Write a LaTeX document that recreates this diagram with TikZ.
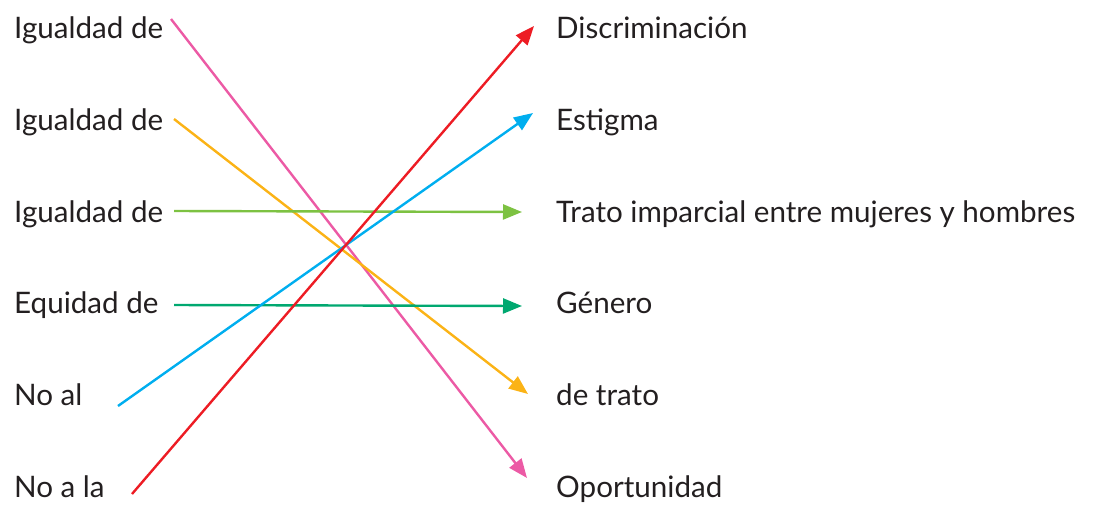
\documentclass[tikz,border=0pt]{standalone}
\usepackage{fontspec}
\setmainfont{Lato}
\usetikzlibrary{arrows.meta}
\definecolor{cpink}{HTML}{EC5AA5}
\definecolor{corange}{HTML}{FBB316}
\definecolor{clgreen}{HTML}{7DC242}
\definecolor{cteal}{HTML}{00A870}
\definecolor{cblue}{HTML}{00AEEF}
\definecolor{cred}{HTML}{ED1C24}
\definecolor{ctext}{HTML}{231F20}
\begin{document}
\begin{tikzpicture}[x=1pt,y=-1pt,
  lbl/.style={anchor=base west,inner sep=0pt,font=\fontsize{29.6}{33}\selectfont,text=ctext},
  conn/.style={line width=2.4pt,-{Triangle[length=19pt,width=15pt]}}]
\useasboundingbox (0,0) rectangle (1100,504);
% left labels
\node[lbl] (l1) at (14,38) {Igualdad de};
\node[lbl] (l2) at (14,130) {Igualdad de};
\node[lbl] (l3) at (14,222) {Igualdad de};
\node[lbl] (l4) at (14,313) {Equidad de};
\node[lbl] (l5) at (14,405) {No al};
\node[lbl] (l6) at (14,497) {No a la};
% right labels
\node[lbl] (r1) at (556,38) {Discriminación};
\node[lbl] (r2) at (556,130) {Estigma};
\node[lbl] (r3) at (556,222) {Trato imparcial entre mujeres y hombres};
\node[lbl] (r4) at (556,313) {Género};
\node[lbl] (r5) at (556,405) {de trato};
\node[lbl] (r6) at (556,497) {Oportunidad};
% endpoints
\coordinate (s1) at (171,19);  \coordinate (e1) at (527,478);
\coordinate (s2) at (174,119); \coordinate (e2) at (528,394);
\coordinate (s3) at (174,211); \coordinate (e3) at (522,212);
\coordinate (s4) at (174,305); \coordinate (e4) at (522,306);
\coordinate (s5) at (118,406); \coordinate (e5) at (533,113);
\coordinate (s6) at (132,494); \coordinate (e6) at (534,26);
\draw[conn,cpink] (s1) -- (e1);
\draw[conn,corange] (s2) -- (e2);
\draw[conn,clgreen] (s3) -- (e3);
\draw[conn,cteal] (s4) -- (e4);
\draw[conn,cblue] (s5) -- (e5);
\draw[conn,cred] (s6) -- (e6);
\end{tikzpicture}
\end{document}
